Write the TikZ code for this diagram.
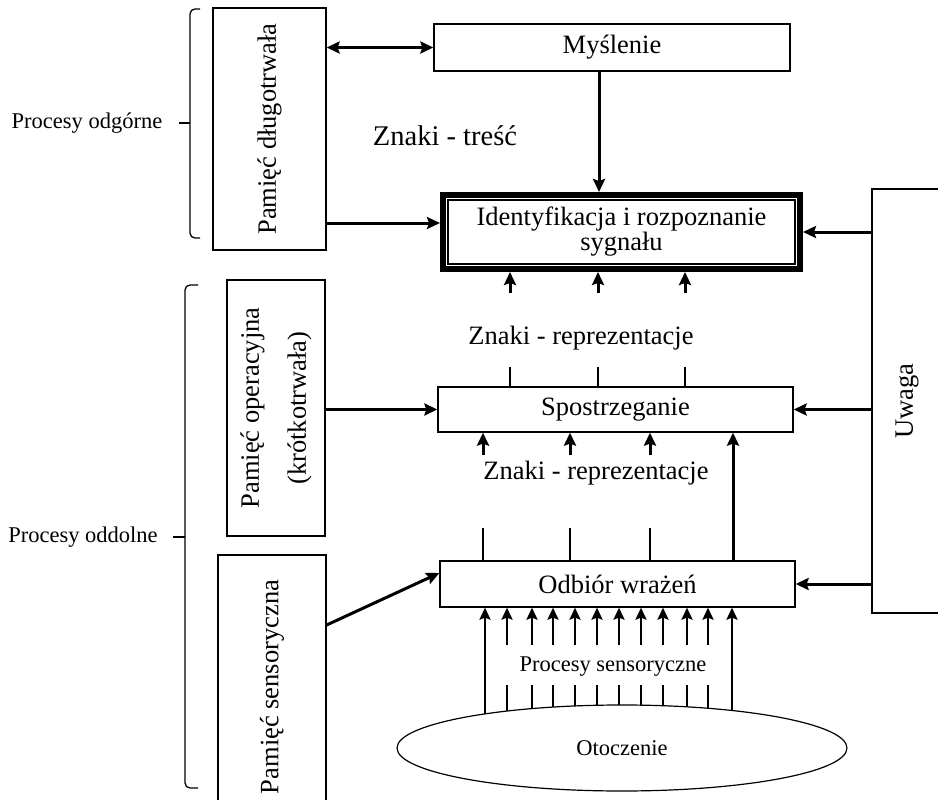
\documentclass[tikz,border=0pt]{standalone}
\usepackage{fontspec}
\setmainfont{Liberation Serif}
\usetikzlibrary{arrows.meta,shapes}

\begin{document}
\begin{tikzpicture}[x=1pt,y=-1pt,>={Stealth[length=13pt,width=12pt,inset=2pt]},
                    box/.style={draw,line width=1.3pt,inner sep=0pt,align=center,
                                font=\fontsize{26.5}{25}\selectfont},
                    vbox/.style={box,rotate=90},
                    lbl/.style={font=\fontsize{26.5}{30}\selectfont},
                    note/.style={font=\fontsize{22.5}{26}\selectfont},
                    flow/.style={->,line width=3pt},
                    sflow/.style={-{Stealth[length=12pt,width=11pt,inset=2pt]},line width=2.4pt},
                    stub/.style={line width=2.4pt},
                    bracket/.style={line width=1.3pt,rounded corners=5pt}]

  \useasboundingbox (0,0) rectangle (938,800);

  \node[box,minimum width=356pt,minimum height=47pt] (mys)    at (612,47.5)  {Myślenie};
  \node[box,line width=6pt,minimum width=357pt,minimum height=74pt]
                                                     (ident)  at (621.5,232) {Identyfikacja i rozpoznanie\\sygnału};
  \node[box,minimum width=355pt,minimum height=45pt] (sp)     at (615.5,409.5) {Spostrzeganie};
  \node[box,minimum width=355pt,minimum height=46pt] (odb)    at (617.5,584) {Odbiór wrażeń};
  \node[draw,ellipse,line width=1.2pt,inner sep=0pt,minimum width=450pt,minimum height=86pt,
        font=\fontsize{22.5}{26}\selectfont]          (oto)    at (622,748)   {Otoczenie};

  \node[vbox,minimum width=242pt,minimum height=113pt] (pdl)  at (269.5,129) {Pamięć długotrwała};
  \node[vbox,minimum width=256pt,minimum height=98pt,font=\fontsize{26.5}{47}\selectfont]
                                                       (pop)  at (276,408)   {Pamięć operacyjna\\(krótkotrwała)};
  \node[vbox,minimum width=264pt,minimum height=108pt] (pse)  at (272,687)   {Pamięć sensoryczna};
  \node[vbox,minimum width=424pt,minimum height=70pt]  (uwaga) at (907,401)  {Uwaga};

  \draw[line width=1.3pt] ([shift={(8,8)}]ident.north west) rectangle ([shift={(-8,-8)}]ident.south east);

  \node[font=\fontsize{28.5}{32}\selectfont] (zt)  at (445,136) {Znaki - treść};
  \node[lbl]  (zr1) at (581,338) {Znaki - reprezentacje};
  \node[lbl]  (zr2) at (596,473) {Znaki - reprezentacje};
  \node[note] (ps)  at (613,667) {Procesy sensoryczne};
  \node[note] (po)  at (87,123)  {Procesy odgórne};
  \node[note] (pd)  at (83,537)  {Procesy oddolne};

  % nawiasy
  \draw[bracket] (200,9) -| (190,238) -- (200,238);
  \draw[line width=1.3pt] (190,123) -- (179,123);
  \draw[bracket] (198,285) -| (185,788) -- (198,788);
  \draw[line width=1.3pt] (185,537) -- (173,537);

  \draw[flow,<->] (pdl.south |- mys.west) -- (mys.west);
  \draw[flow] (pdl.south |- 0,223) -- (ident.west |- 0,223);
  \draw[flow] (mys.south -| 599,0) -- (ident.north -| 599,0);
  \draw[flow] (pop.south |- sp.west) -- (sp.west);
  \draw[flow] (pse.south |- 0,625) -- (odb.west |- 0,573);

  \draw[flow] (ident.east -| uwaga.north) -- (ident.east);
  \draw[flow] (sp.east -| uwaga.north) -- (sp.east);
  \draw[flow] (odb.east -| uwaga.north) -- (odb.east);

  \foreach \x in {510,598,685} {
    \draw[flow] (\x,293) -- (ident.south -| \x,0);
    \draw[stub] (sp.north -| \x,0) -- (\x,367);
  }
  \foreach \x in {483,570,650} {
    \draw[flow] (\x,455) -- (sp.south -| \x,0);
    \draw[stub] (odb.north -| \x,0) -- (\x,528);
  }
  \draw[flow] (odb.north -| 733,0) -- (sp.south -| 733,0);

  \foreach \x in {507,532,553,575,597,619,641,663,687,708} {
    \pgfmathsetmacro\ye{748-43*sqrt(1-((\x-622)/225)^2)}
    \draw[sflow] (\x,645) -- (odb.south -| \x,0);
    \draw[stub] (\x,685) -- (\x,\ye);
  }
  \foreach \x in {485,732} {
    \pgfmathsetmacro\ye{748-43*sqrt(1-((\x-622)/225)^2)}
    \draw[sflow] (\x,\ye) -- (odb.south -| \x,0);
  }
\end{tikzpicture}
\end{document}
